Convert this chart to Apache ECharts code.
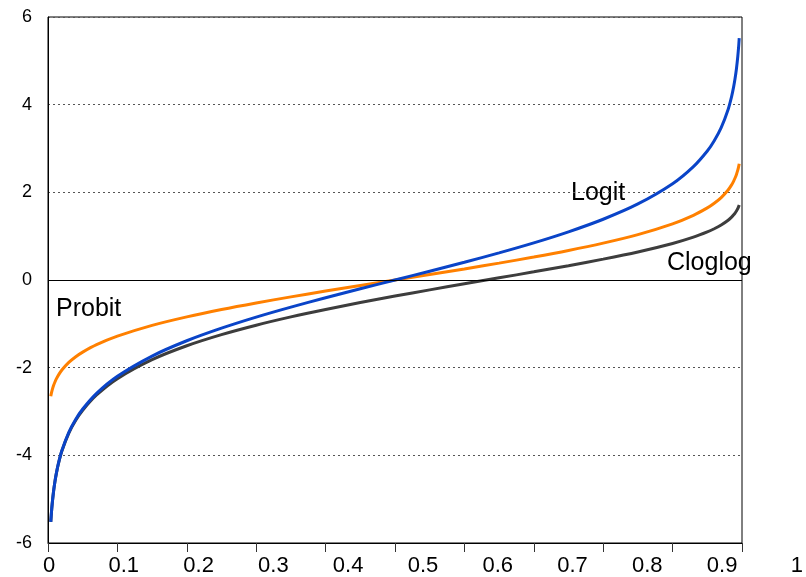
<!DOCTYPE html>
<html>
<head>
<meta charset="utf-8">
<script src="https://cdn.jsdelivr.net/npm/echarts@6/dist/echarts.min.js"></script>
<style>
  html, body { margin: 0; padding: 0; background: #fff; }
  #chart { width: 806px; height: 577px; }
</style>
</head>
<body>
<div id="chart"></div>
<script>
// Probability grid (x) and the three link transforms evaluated on it
const probs = [0.004, 0.005, 0.006, 0.008, 0.01, 0.012, 0.015, 0.02, 0.03, 0.04, 0.05, 0.07,
  0.1, 0.15, 0.2, 0.25, 0.3, 0.35, 0.4, 0.45, 0.5, 0.55, 0.6, 0.65, 0.7, 0.75, 0.8, 0.85,
  0.9, 0.93, 0.95, 0.96, 0.97, 0.98, 0.985, 0.988, 0.99, 0.992, 0.994, 0.995, 0.996];

const logitVals = [-5.517, -5.293, -5.110, -4.820, -4.595, -4.411, -4.185, -3.892, -3.476, -3.178, -2.944, -2.587,
  -2.197, -1.735, -1.386, -1.099, -0.847, -0.619, -0.405, -0.201, 0, 0.201, 0.405, 0.619, 0.847, 1.099, 1.386, 1.735,
  2.197, 2.587, 2.944, 3.178, 3.476, 3.892, 4.185, 4.411, 4.595, 4.820, 5.110, 5.293, 5.517];

const probitVals = [-2.652, -2.576, -2.512, -2.409, -2.326, -2.257, -2.170, -2.054, -1.881, -1.751, -1.645, -1.476,
  -1.282, -1.036, -0.842, -0.674, -0.524, -0.385, -0.253, -0.126, 0, 0.126, 0.253, 0.385, 0.524, 0.674, 0.842, 1.036,
  1.282, 1.476, 1.645, 1.751, 1.881, 2.054, 2.170, 2.257, 2.326, 2.409, 2.512, 2.576, 2.652];

const cloglogVals = [-5.519, -5.296, -5.113, -4.824, -4.600, -4.417, -4.192, -3.902, -3.491, -3.198, -2.970, -2.623,
  -2.250, -1.817, -1.500, -1.246, -1.031, -0.842, -0.672, -0.514, -0.367, -0.225, -0.087, 0.049, 0.186, 0.327, 0.476, 0.640,
  0.834, 0.978, 1.097, 1.169, 1.255, 1.364, 1.435, 1.487, 1.527, 1.575, 1.632, 1.667, 1.709];

// Axis tick labels
const xTickLabels = ['0', '0.1', '0.2', '0.3', '0.4', '0.5', '0.6', '0.7', '0.8', '0.9', '1'];
const yTickLabels = ['-6', '-4', '-2', '0', '2', '4', '6'];

const pairs = vals => probs.map((p, i) => [p, vals[i]]);
const FONT = '"Liberation Sans", Arial, sans-serif';

const chart = echarts.init(document.getElementById('chart'), null, { renderer: 'canvas' });

chart.setOption({
  animation: false,
  backgroundColor: '#ffffff',
  grid: [
    { left: 48, right: 64, top: 17, bottom: 34, show: true, borderColor: '#000', borderWidth: 1, backgroundColor: 'transparent' },
    { left: 49, right: 1, top: 17, bottom: 34 }
  ],
  xAxis: [
    {
      type: 'value', gridIndex: 0, min: 0, max: 1, interval: 0.1,
      axisLine: { show: true, onZero: false, lineStyle: { color: '#000', width: 1 } },
      axisTick: { show: true, inside: false, length: 9, lineStyle: { color: '#333', width: 1 } },
      axisLabel: { show: false },
      splitLine: { show: false }
    },
    {
      type: 'value', gridIndex: 1, min: 0, max: 1, interval: 0.1,
      axisLine: { show: false }, axisTick: { show: false }, splitLine: { show: false },
      axisLabel: {
        show: true, margin: 15, fontSize: 22, color: '#000', fontFamily: FONT,
        formatter: v => xTickLabels[Math.round(v * 10)]
      }
    }
  ],
  yAxis: [
    {
      type: 'value', gridIndex: 0, min: -6, max: 6, interval: 2,
      axisLine: { show: true, onZero: false, lineStyle: { color: '#000', width: 1 } },
      axisTick: { show: false },
      axisLabel: {
        margin: 16, fontSize: 18, color: '#000', fontFamily: FONT,
        formatter: v => yTickLabels[Math.round((v + 6) / 2)]
      },
      splitLine: { show: true, lineStyle: { color: '#555', type: [2, 3], width: 1 } }
    },
    { type: 'value', gridIndex: 1, min: -6, max: 6, show: false }
  ],
  series: [
    {
      name: 'Cloglog', type: 'line', xAxisIndex: 0, yAxisIndex: 0,
      data: pairs(cloglogVals), smooth: 0.3, showSymbol: false,
      lineStyle: { color: '#3d3d3d', width: 3 },
      markLine: {
        silent: true, symbol: 'none', label: { show: false },
        lineStyle: { color: '#000', type: 'solid', width: 1 },
        data: [{ yAxis: 0 }]
      }
    },
    {
      name: 'Probit', type: 'line', xAxisIndex: 0, yAxisIndex: 0,
      data: pairs(probitVals), smooth: 0.3, showSymbol: false,
      lineStyle: { color: '#ff8000', width: 3 }
    },
    {
      name: 'Logit', type: 'line', xAxisIndex: 0, yAxisIndex: 0,
      data: pairs(logitVals), smooth: 0.3, showSymbol: false,
      lineStyle: { color: '#0a44c8', width: 3 }
    }
  ],
  graphic: [
    { type: 'text', left: 571, top: 181, style: { text: 'Logit', fontSize: 25, fontFamily: FONT, fill: '#000' } },
    { type: 'text', left: 667, top: 251, style: { text: 'Cloglog', fontSize: 25, fontFamily: FONT, fill: '#000' } },
    { type: 'text', left: 56, top: 297, style: { text: 'Probit', fontSize: 25, fontFamily: FONT, fill: '#000' } }
  ]
});
</script>
</body>
</html>
